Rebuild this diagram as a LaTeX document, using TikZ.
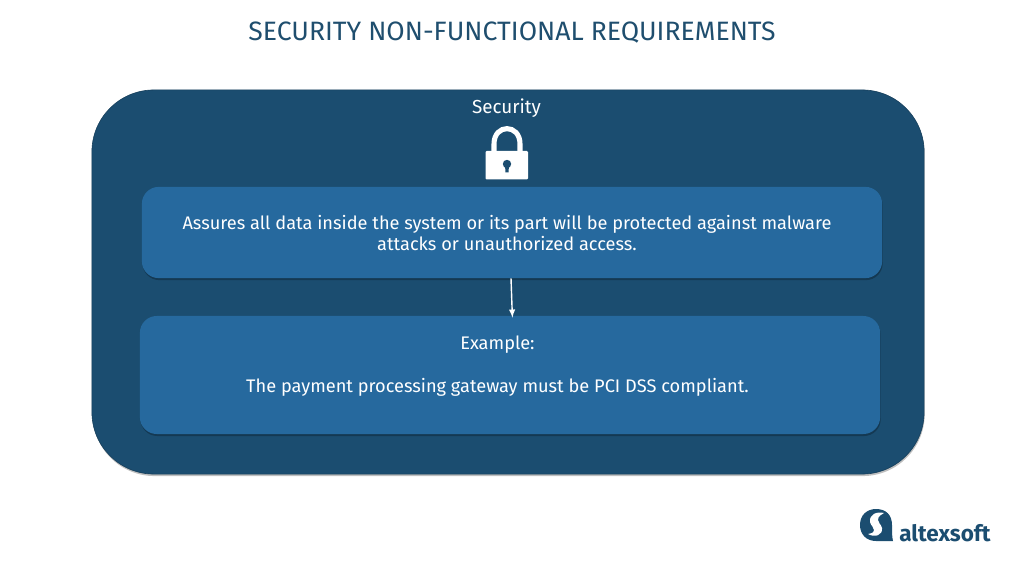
\documentclass[tikz,border=0pt]{standalone}
\usepackage{fontspec}
\setmainfont{Fira Sans}
\usetikzlibrary{shadows}
\definecolor{darkblue}{HTML}{1B4D70}
\definecolor{midblue}{HTML}{26699E}
\definecolor{titleblue}{HTML}{1F4E6E}
\begin{document}
\begin{tikzpicture}[>=latex, x=0.025cm, y=-0.025cm,
    softshadow/.style={drop shadow={shadow xshift=0.015cm, shadow yshift=-0.05cm, opacity=0.25, fill=black}},
    outerbox/.style={fill=darkblue, draw=darkblue!80!black, line width=0.4pt, rounded corners=1.55cm, softshadow},
    innerbox/.style={fill=midblue, rounded corners=0.42cm, softshadow},
    boxtext/.style={text=white, align=center, inner sep=0pt, font=\fontsize{12.95}{15.4}\selectfont}]
  \useasboundingbox (0,0) rectangle (1025,577);
  % Title
  \node[text=titleblue, font=\fontsize{18.9}{21}\selectfont] (title) at (512,33) {SECURITY NON-FUNCTIONAL REQUIREMENTS};
  % Boxes
  \node[outerbox, minimum width=20.8cm, minimum height=9.6cm] (outer) at (508,282) {};
  \node[text=white, font=\fontsize{13.4}{15}\selectfont] (security) at (506.5,108) {Security};
  \node[innerbox, minimum width=18.5cm, minimum height=2.28cm] (assures) at (512,232.5) {};
  \node[boxtext] (assurestext) at (507,233)
    {Assures all data inside the system or its part will be protected against malware\\attacks or unauthorized access.};
  \node[innerbox, minimum width=18.5cm, minimum height=2.95cm] (example) at (510,375) {};
  \node[boxtext] (exampletext) at (497.5,366)
    {Example:\\[\baselineskip]The payment processing gateway must be PCI DSS compliant.};
  % Arrow
  \draw[->, white, line width=1pt] ([xshift=-0.025cm]assures.south) -- ([xshift=0.06cm, yshift=-0.05cm]example.north);
  % Lock
  \draw[white, line width=3.6pt] (494,152) -- (494,144) .. controls (494,123.5) and (520,123.5) .. (520,144) -- (520,152);
  \fill[white, rounded corners=0.03cm] (485.5,151) -- (528,151) -- (528,179.5) -- (485.5,179.5) -- cycle;
  \fill[darkblue] (507,164) circle (4.2);
  \fill[darkblue] (505,165) -- (509,165) -- (508.5,172.5) -- (505.5,172.5) -- cycle;
  % Logo
  \fill[darkblue] (893,541) -- (876,541) .. controls (866,541) and (860,534) .. (860,525)
    .. controls (860,515) and (867,509) .. (876,509) .. controls (886,509) and (892,515) .. (892,525)
    .. controls (892,532) and (892,537) .. (893,541) -- cycle;
  \fill[white] (884,513) .. controls (876,511) and (869,515) .. (870,522) .. controls (871,526) and (874,527) .. (874,530)
    .. controls (874,533) and (870,534) .. (868,534) .. controls (875,538) and (883,535) .. (882,528)
    .. controls (881,524) and (878,523) .. (878,520) .. controls (878,516) and (881,515) .. (884,513) -- cycle;
  \node[text=darkblue, font=\fontsize{16}{18}\selectfont\bfseries, anchor=base west, inner sep=0pt] (brand) at (899,541) {altexsoft};
\end{tikzpicture}
\end{document}
